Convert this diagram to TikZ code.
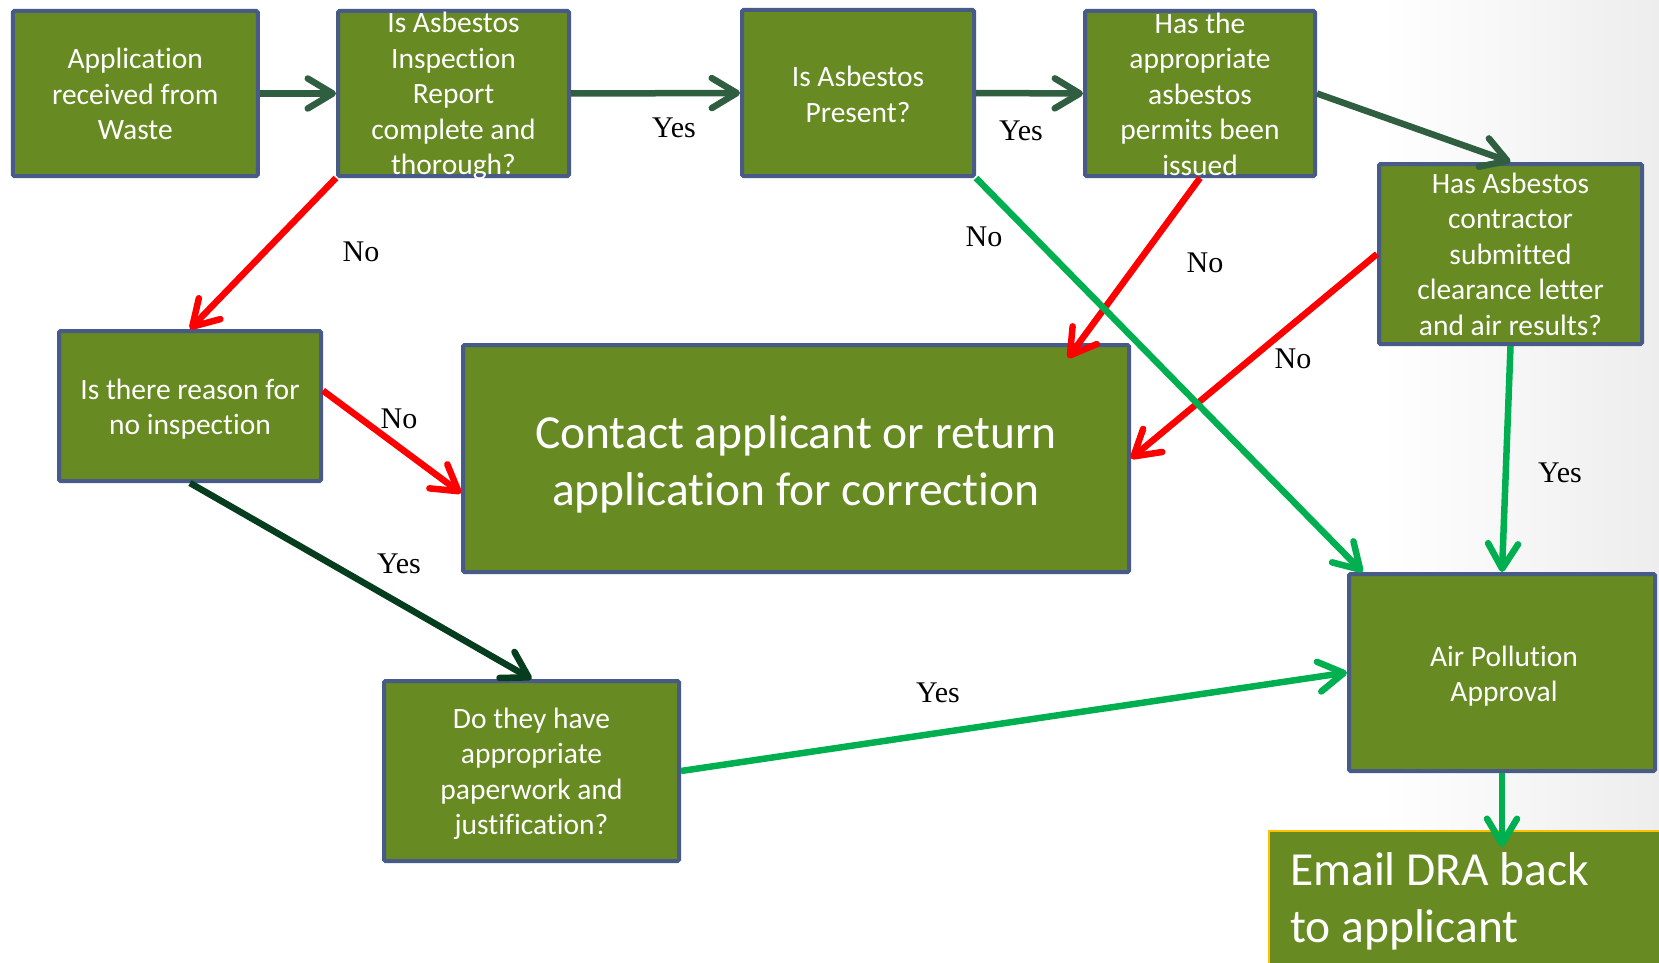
\documentclass[tikz,border=0pt]{standalone}
\usepackage{fontspec}
\setmainfont[Ligatures=NoCommon,Contextuals=NoAlternate]{Carlito}
\newfontfamily\labelfont{Liberation Serif}
\usetikzlibrary{arrows.meta,calc}
\definecolor{boxfill}{HTML}{678A22}
\definecolor{boxedge}{HTML}{475A88}
\definecolor{darkarr}{HTML}{2F5E40}
\definecolor{darkerarr}{HTML}{073D1F}
\definecolor{greenarr}{HTML}{00B050}
\definecolor{redarr}{HTML}{FF0000}
\definecolor{emailedge}{HTML}{FFC000}
\begin{document}
\begin{tikzpicture}[x=1pt,y=-1pt,
  box/.style={draw=boxedge,line width=4pt,fill=boxfill,inner sep=0pt,rounded corners=1.5pt},
  boxtext/.style={text=white,align=center,font=\fontsize{29.5}{35.5}\selectfont,inner sep=0pt},
  bigtext/.style={text=white,font=\fontsize{47.5}{57}\selectfont,inner sep=0pt},
  lbl/.style={font=\labelfont\fontsize{30}{36}\selectfont,inner sep=0pt},
  conn/.style={line width=6.5pt,-{Straight Barb[length=25pt,width=30pt,line cap=round,line join=round]},
    preaction={draw=black,opacity=0.15,transform canvas={shift={(2pt,-2pt)}}}},
  darkc/.style={conn,draw=darkarr},
  darkerc/.style={conn,draw=darkerarr},
  greenc/.style={conn,draw=greenarr},
  redc/.style={conn,draw=redarr}
]
\useasboundingbox (0,0) rectangle (1659,963);
\clip (0,0) rectangle (1659,963);
\fill[white] (0,0) rectangle (1659,963);
\shade[left color=white,right color=black!7] (1380,0) rectangle (1659,963);

% boxes
\node[box,minimum width=245pt,minimum height=165pt] (b1) at (135.3,93.5) {};
\node[box,minimum width=231pt,minimum height=165pt] (b2) at (453.5,93.5) {};
\node[box,minimum width=232pt,minimum height=166pt] (b3) at (858,93) {};
\node[box,minimum width=230pt,minimum height=165pt] (b4) at (1200,93.5) {};
\node[box,minimum width=263pt,minimum height=180pt] (b5) at (1510.5,254) {};
\node[box,minimum width=262pt,minimum height=150pt] (b6) at (190,406) {};
\node[box,minimum width=666pt,minimum height=227pt] (b7) at (796,458.5) {};
\node[box,minimum width=295pt,minimum height=180pt] (b8) at (531.5,771) {};
\node[box,minimum width=306pt,minimum height=197pt] (b9) at (1502,672.5) {};
\node[draw=emailedge,line width=2pt,fill=boxfill,inner sep=0pt,minimum width=420pt,minimum height=158pt] (b10) at (1479,910) {};

% texts
\node[boxtext] (t1) at (135.3,94) {Application\\received from\\Waste};
\node[boxtext] (t2) at (453.5,96) {Is Asbestos\\Inspection\\Report\\complete and\\thorough?};
\node[boxtext] (t3) at (858,94.5) {Is Asbestos\\Present?};
\node[boxtext] (t4) at (1200,94) {Has the\\appropriate\\asbestos\\permits been\\issued};
\node[boxtext] (t5) at (1510.5,254) {Has Asbestos\\contractor\\submitted\\clearance letter\\and air results?};
\node[boxtext] (t6) at (190,409) {Is there reason for\\no inspection};
\node[bigtext,align=center] (t7) at (796,464) {Contact applicant or return\\application for correction};
\node[boxtext] (t8) at (531.5,774) {Do they have\\appropriate\\paperwork and\\justification?};
\node[boxtext] (t9) at (1504,676) {Air Pollution\\Approval};
\node[bigtext,align=left,anchor=west] (t10) at (1290,901) {Email DRA back\\to applicant};

% connectors
\coordinate (p6e) at ($(b6.north east)!0.4!(b6.south east)$);
\coordinate (p7w) at ($(b7.north west)!0.65!(b7.south west)$);
\coordinate (p9n) at ($(b9.north west)!0.05!(b9.north east)$);
\coordinate (p7in) at ($(b7.north east)+(-63,15)$);
\coordinate (p10) at ($(b9.south)+(0,74)$);

\draw[darkc] (b1.east) -- (b2.west);
\draw[darkc] (b2.east) -- (b3.west);
\draw[darkc] (b3.east) -- (b4.west);
\draw[darkc] (b4.east) -- (b5.north);
\draw[redc] (b2.south west) -- (b6.north);
\draw[redc] (p6e) -- (p7w);
\draw[darkerc] (b6.south) -- (b8.north);
\draw[redc] (b4.south) -- (p7in);
\draw[redc] (b5.west) -- (b7.east);
\draw[greenc] (b3.south east) -- (p9n);
\draw[greenc] (b8.east) -- (b9.west);
\draw[greenc] (b5.south) -- (b9.north);
\draw[greenc] (b9.south) -- (p10);

% labels
\node[lbl] (l1) at (674,128) {Yes};
\node[lbl] (l2) at (1021,131) {Yes};
\node[lbl] (l3) at (361,252) {No};
\node[lbl] (l4) at (984,237) {No};
\node[lbl] (l5) at (1205,263) {No};
\node[lbl] (l6) at (1293,359) {No};
\node[lbl] (l7) at (399,419) {No};
\node[lbl] (l8) at (399,564) {Yes};
\node[lbl] (l9) at (1560,473) {Yes};
\node[lbl] (l10) at (938,693) {Yes};
\end{tikzpicture}
\end{document}
